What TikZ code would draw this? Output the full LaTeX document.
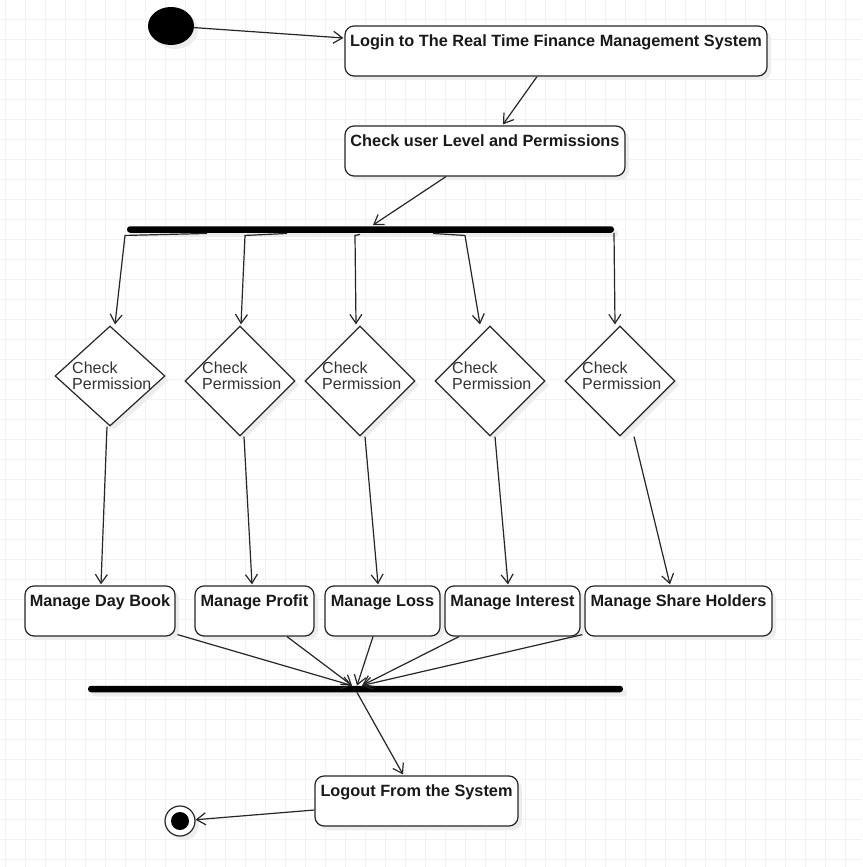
\documentclass[tikz,border=0pt]{standalone}
\usepackage{fontspec}
\setmainfont{Liberation Sans}
\usetikzlibrary{arrows.meta,shapes.geometric,calc,shadows}
\begin{document}
\begin{tikzpicture}[x=1pt,y=-1pt,
  shad/.style={drop shadow={shadow xshift=4pt,shadow yshift=-4pt,fill=black!7,opacity=1}},
  act/.style={draw=black!85, line width=1.2pt, rounded corners=9pt, fill=white, shad,
    font=\fontsize{16.3}{18}\selectfont\bfseries, text=black!90,
    text height=20.7pt, text depth=29.3pt, inner ysep=0pt, inner xsep=0pt, minimum height=50pt},
  bar/.style={fill=black, draw=none, rounded corners=3pt, minimum height=6.5pt, inner sep=0pt, shad},
  dia/.style={diamond, draw=black!85, line width=1.2pt, fill=white, inner sep=0pt, shad},
  dtext/.style={font=\fontsize{16}{16}\selectfont, text=black!80, align=left, inner sep=0pt, anchor=north west},
  conn/.style={draw=black!85, line width=1.2pt, -{Straight Barb[length=9pt,width=12pt]}},
  gridline/.style={draw=black!5, line width=1pt}
]
\fill[white] (0,0) rectangle (862,867);
\useasboundingbox (0,0) rectangle (862,867);
\foreach \x in {5.7,25.7,...,862} \draw[gridline] (\x,0) -- (\x,867);
\foreach \y in {19.3,39.3,...,867} \draw[gridline] (0,\y) -- (862,\y);

% nodes
\node[ellipse, fill=black, draw=none, minimum width=46pt, minimum height=38pt, inner sep=0pt, shad] (start) at (171,26) {};
\node[act, minimum width=422pt] (login) at (556,51) {Login to The Real Time Finance Management System};
\node[act, minimum width=280pt] (check) at (485,151) {Check user Level and Permissions};
\node[bar, minimum width=487pt] (fork1) at (370.5,229.5) {};

\node[dia, minimum width=110pt, minimum height=100pt] (d1) at (110,376) {};
\node[dia, minimum width=110pt, minimum height=110pt] (d2) at (240,381) {};
\node[dia, minimum width=110pt, minimum height=110pt] (d3) at (360,381) {};
\node[dia, minimum width=110pt, minimum height=110pt] (d4) at (490,381) {};
\node[dia, minimum width=110pt, minimum height=110pt] (d5) at (620,381) {};
\node[dtext] (t1) at (72,362) {Check\\Permission};
\node[dtext] (t2) at (202,362) {Check\\Permission};
\node[dtext] (t3) at (322,362) {Check\\Permission};
\node[dtext] (t4) at (452,362) {Check\\Permission};
\node[dtext] (t5) at (582,362) {Check\\Permission};

\node[act, minimum width=150pt] (mdb) at (100,611) {Manage Day Book};
\node[act, minimum width=119pt] (mp) at (254.5,611) {Manage Profit};
\node[act, minimum width=115pt] (ml) at (382.5,611) {Manage Loss};
\node[act, minimum width=135pt] (mi) at (512.5,611) {Manage Interest};
\node[act, minimum width=187pt] (msh) at (678.5,611) {Manage Share Holders};

\node[bar, minimum width=535pt] (join) at (355.5,689) {};
\node[act, minimum width=203pt] (logout) at (416.5,801) {Logout From the System};

\node[circle, draw=black!85, line width=1.2pt, fill=white, minimum size=30pt, inner sep=0pt, shad] (endc) at (180,821) {};
\node[circle, fill=black, minimum size=18pt, inner sep=0pt] (endin) at (endc) {};

% connectors
\draw[conn] (start) -- ($(login.west)+(-1,-13)$);
\draw[conn] ($(login.south)+(-19,0)$) -- ($(check.north)+(18,-1)$);
\draw[conn] ($(check.south)+(-39,0)$) -- ($(fork1.north)+(2.5,-1)$);

\draw[conn] ($(fork1.south)+(-163.5,0.5)$) -- ($(fork1.south)+(-245.5,2.5)$) -- ($(d1.north)+(5,-1)$);
\draw[conn] ($(fork1.south)+(-83.5,0.5)$) -- ($(fork1.south)+(-125.5,2.5)$) -- ($(d2.north)+(1,-1)$);
\draw[conn] ($(fork1.south)+(-10.5,1.5)$) -- ($(fork1.south)+(-15.5,2.5)$) -- ($(d3.north)+(-4,-1)$);
\draw[conn] ($(fork1.south)+(62.5,0.5)$) -- ($(fork1.south)+(94.5,2.5)$) -- ($(d4.north)+(-10,-1)$);
\draw[conn] ($(fork1.south)+(243.5,0)$) -- ($(d5.north)+(-5,-1)$);

\draw[conn] ($(d1.south)+(-3,0)$) -- ($(mdb.north)+(1,-1)$);
\draw[conn] ($(d2.south)+(4,0)$) -- ($(mp.north)+(-2.5,-1)$);
\draw[conn] ($(d3.south)+(5,0)$) -- ($(ml.north)+(-4.5,-1)$);
\draw[conn] ($(d4.south)+(5,0)$) -- ($(mi.north)+(-4.5,-1)$);
\draw[conn] ($(d5.south)+(14,0)$) -- ($(msh.north)+(-8.5,-1)$);

\draw[conn] ($(mdb.south east)+(2,-2)$) -- ($(join.north)+(-3.5,0)$);
\draw[conn] ($(mp.south)+(32.5,0)$) -- ($(join.north)+(-3.5,0)$);
\draw[conn] ($(ml.south)+(-9.5,0)$) -- ($(join.north)+(1.5,0)$);
\draw[conn] ($(mi.south)+(-53.5,0)$) -- ($(join.north)+(6.5,0)$);
\draw[conn] ($(msh.south west)+(-2,-2)$) -- ($(join.north)+(6.5,0)$);

\draw[conn] ($(join.south)+(1.5,0)$) -- ($(logout.north)+(-13.5,-1)$);
\draw[conn] ($(logout.west)+(0,9)$) -- (endc);
\end{tikzpicture}
\end{document}
